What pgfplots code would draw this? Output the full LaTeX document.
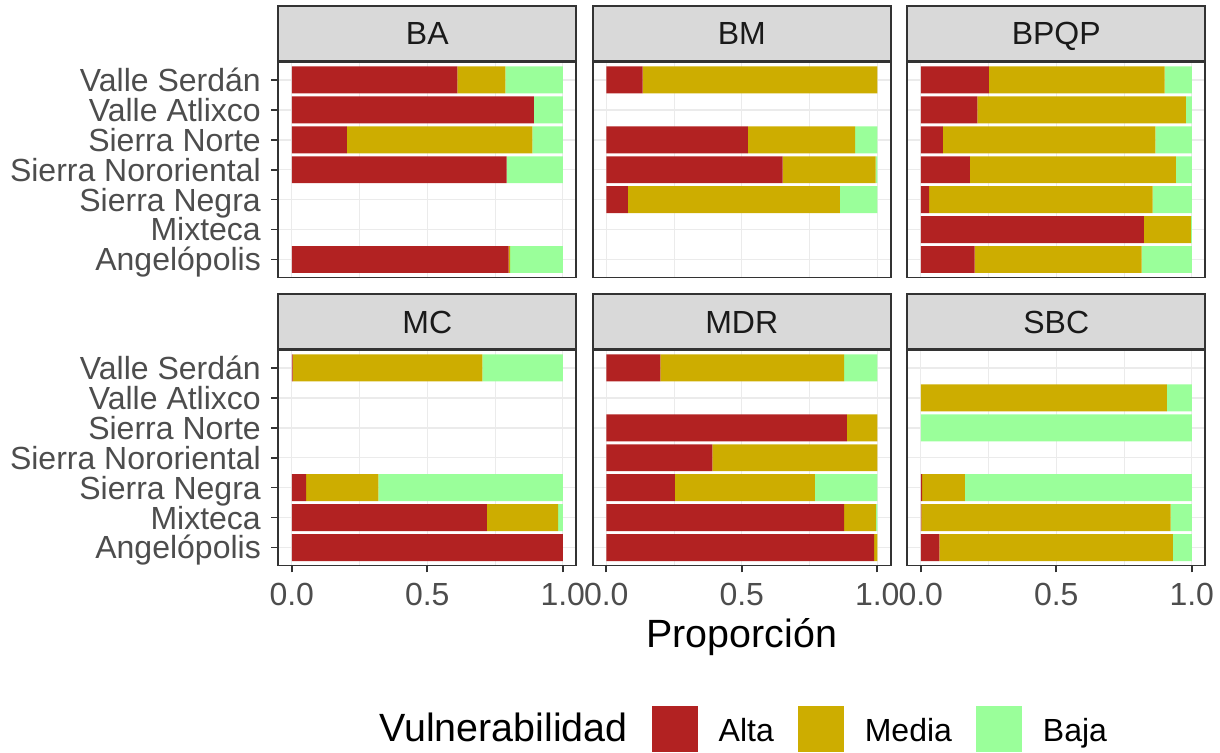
\documentclass[border=0pt]{standalone}
\usepackage{fontspec}
\setmainfont{Liberation Sans}
\usepackage{pgfplots}
\usepackage{pgfplotstable}
\pgfplotsset{compat=1.18}

\definecolor{alta}{HTML}{B22222}
\definecolor{media}{HTML}{CDAD00}
\definecolor{baja}{HTML}{9AFF9A}
\definecolor{grey92}{HTML}{EBEBEB}
\definecolor{grey85}{HTML}{D9D9D9}
\definecolor{grey30}{HTML}{4D4D4D}
\definecolor{grey20}{HTML}{333333}
\definecolor{grey10}{HTML}{1A1A1A}

\newcommand\smallfont{\fontsize{16}{19.2}\selectfont}
\newcommand\bigfont{\fontsize{19.7}{23.6}\selectfont}

% proportions per region: 7 = Valle Serdan ... 1 = Angelopolis
\pgfplotstableread{
y alta  media baja
7 0.611 0.177 0.212
6 0.893 0.000 0.107
5 0.203 0.685 0.112
4 0.793 0.000 0.207
3 0     0     0
2 0     0     0
1 0.800 0.006 0.194
}\tabBA
\pgfplotstableread{
y alta  media baja
7 0.134 0.866 0
6 0     0     0
5 0.523 0.395 0.082
4 0.651 0.343 0.006
3 0.080 0.782 0.138
2 0     0     0
1 0     0     0
}\tabBM
\pgfplotstableread{
y alta  media baja
7 0.251 0.649 0.100
6 0.209 0.769 0.022
5 0.082 0.784 0.134
4 0.181 0.760 0.059
3 0.031 0.825 0.144
2 0.823 0.174 0.003
1 0.199 0.616 0.185
}\tabBPQP
\pgfplotstableread{
y alta  media baja
7 0.003 0.700 0.297
6 0     0     0
5 0     0     0
4 0     0     0
3 0.053 0.267 0.680
2 0.720 0.263 0.017
1 1.000 0     0
}\tabMC
\pgfplotstableread{
y alta  media baja
7 0.200 0.678 0.122
6 0     0     0
5 0.888 0.112 0
4 0.392 0.608 0
3 0.253 0.517 0.230
2 0.878 0.117 0.005
1 0.988 0.012 0
}\tabMDR
\pgfplotstableread{
y alta  media baja
7 0     0     0
6 0     0.908 0.092
5 0     0     1.000
4 0     0     0
3 0.005 0.158 0.837
2 0.002 0.920 0.078
1 0.069 0.861 0.070
}\tabSBC

\pgfplotsset{
  panel/.style={
    scale only axis, width=149.05pt, height=107.75pt,
    xmin=-0.05, xmax=1.05, ymin=0.4, ymax=7.6,
    xbar stacked, bar width=0.9,
    xtick={0,0.5,1}, minor xtick={0.25,0.75}, ytick={1,...,7},
    xticklabels={0.0,0.5,1.0},
    yticklabels={Angelópolis,Mixteca,Sierra Negra,Sierra Nororiental,Sierra Norte,Valle Atlixco,Valle Serdán},
    xtick pos=bottom, ytick pos=left,
    tick align=outside, major tick length=3.5pt, minor tick length=0pt,
    every tick/.style={draw=grey20, line width=0.8pt},
    grid=both,
    major grid style={draw=grey92, line width=0.7pt},
    minor grid style={draw=grey92, line width=0.35pt},
    axis line style={draw=grey20, line width=0.9pt},
    ticklabel style={font=\smallfont, text=grey30},
    yticklabel style={anchor=east, text height=11.4pt, text depth=0pt, inner sep=0pt, xshift=-5pt},
    xticklabel style={anchor=north, text height=11.4pt, text depth=0pt, inner sep=0pt, yshift=-5pt},
    every axis title/.style={at={(0.5,1)}, anchor=south, draw=grey20, line width=0.9pt,
      fill=grey85, minimum width=149.05pt, minimum height=27.5pt, inner sep=0pt,
      font=\smallfont, text=grey10, text height=11.4pt, text depth=0pt},
  },
  toprow/.style={xticklabel={}, xmajorticks=false},
  inner/.style={yticklabel={}, ymajorticks=false},
  keybox/.style={legend image code/.code={
      \fill[##1] (0pt,-8.85pt) rectangle (23pt,14.15pt);
      \path (33.5pt,0pt);}},
}

\begin{document}
\begin{tikzpicture}
\useasboundingbox (0pt,0pt) rectangle (610pt,-376.5pt);

\begin{axis}[panel, toprow, title={BA}, at={(139.1pt,-31pt)}, anchor=north west]
  \addplot[fill=alta, draw=none] table[x=alta, y=y] {\tabBA};
  \addplot[fill=media, draw=none] table[x=media, y=y] {\tabBA};
  \addplot[fill=baja, draw=none] table[x=baja, y=y] {\tabBA};
\end{axis}

\begin{axis}[panel, toprow, inner, title={BM}, at={(296.35pt,-31pt)}, anchor=north west]
  \addplot[fill=alta, draw=none] table[x=alta, y=y] {\tabBM};
  \addplot[fill=media, draw=none] table[x=media, y=y] {\tabBM};
  \addplot[fill=baja, draw=none] table[x=baja, y=y] {\tabBM};
\end{axis}

\begin{axis}[panel, toprow, inner, title={BPQP}, at={(453.6pt,-31pt)}, anchor=north west]
  \addplot[fill=alta, draw=none] table[x=alta, y=y] {\tabBPQP};
  \addplot[fill=media, draw=none] table[x=media, y=y] {\tabBPQP};
  \addplot[fill=baja, draw=none] table[x=baja, y=y] {\tabBPQP};
\end{axis}

\begin{axis}[panel, title={MC}, at={(139.1pt,-175pt)}, anchor=north west]
  \addplot[fill=alta, draw=none] table[x=alta, y=y] {\tabMC};
  \addplot[fill=media, draw=none] table[x=media, y=y] {\tabMC};
  \addplot[fill=baja, draw=none] table[x=baja, y=y] {\tabMC};
\end{axis}

\begin{axis}[panel, inner, title={MDR}, at={(296.35pt,-175pt)}, anchor=north west,
  xlabel={Proporción},
  xlabel style={at={(axis description cs:0.5,-0.3828)}, anchor=base, font=\bigfont, text=black, inner sep=0pt},
  legend columns=4, legend cell align=left,
  legend style={at={(axis description cs:-0.7155,-0.6506)}, anchor=north west,
    draw=none, fill=none, inner sep=0pt, outer sep=0pt, font=\smallfont, text=black,
    nodes={inner sep=0pt, text height=11.5pt, text depth=3.5pt},
    /tikz/every even column/.append style={column sep=12pt}},
  ]
  \addlegendimage{empty legend}
  \addlegendentry{\bigfont Vulnerabilidad}
  \addplot[fill=alta, draw=none, keybox] table[x=alta, y=y] {\tabMDR};
  \addlegendentry{Alta}
  \addplot[fill=media, draw=none, keybox] table[x=media, y=y] {\tabMDR};
  \addlegendentry{Media}
  \addplot[fill=baja, draw=none, keybox] table[x=baja, y=y] {\tabMDR};
  \addlegendentry{Baja}
\end{axis}

\begin{axis}[panel, inner, title={SBC}, at={(453.6pt,-175pt)}, anchor=north west]
  \addplot[fill=alta, draw=none] table[x=alta, y=y] {\tabSBC};
  \addplot[fill=media, draw=none] table[x=media, y=y] {\tabSBC};
  \addplot[fill=baja, draw=none] table[x=baja, y=y] {\tabSBC};
\end{axis}
\end{tikzpicture}
\end{document}
